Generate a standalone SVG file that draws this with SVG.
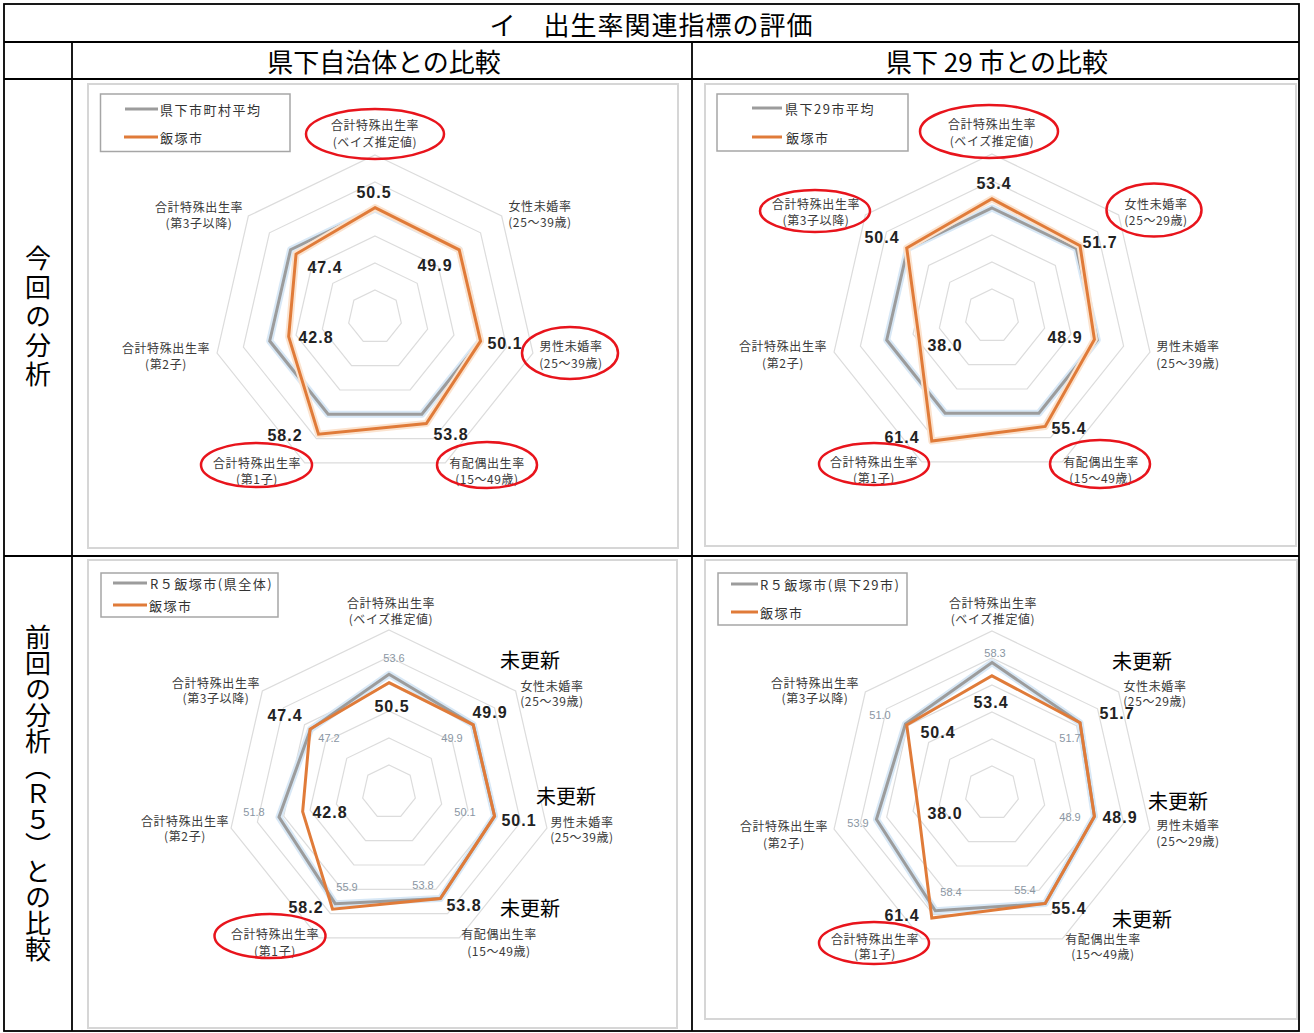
<svg xmlns="http://www.w3.org/2000/svg" xmlns:xlink="http://www.w3.org/1999/xlink" width="1314" height="1033" viewBox="0 0 1314 1033">
<style>
.cell{fill:none;stroke:#000;stroke-width:1.8}
.hd{font-family:"Noto Sans CJK JP",sans-serif;font-size:26px;fill:#000;text-anchor:middle;dominant-baseline:central}
.vt{font-family:"Noto Sans CJK JP",sans-serif;font-size:26px;fill:#000;text-anchor:middle;writing-mode:vertical-rl}
.frame{fill:#fff;stroke:#d6d6d6;stroke-width:2}
.ring{fill:none;stroke:#dcdcdc;stroke-width:1.2}
.gh{fill:none;stroke:#d8e8f6;stroke-width:7;stroke-linejoin:round}
.oh{fill:none;stroke:#fbe3cf;stroke-width:7;stroke-linejoin:round}
.gs{fill:none;stroke:#9c9c9c;stroke-width:3}
.os{fill:none;stroke:#e07b39;stroke-width:3}
.ax{font-family:"Noto Sans CJK JP",sans-serif;font-size:12px;fill:#3a3a3a;text-anchor:middle;dominant-baseline:central;letter-spacing:0.6px}
.vb{font-family:"Liberation Sans",Arial,sans-serif;font-size:16px;font-weight:bold;fill:#222;text-anchor:middle;dominant-baseline:central;letter-spacing:1px}
.vg{font-family:"Liberation Sans",Arial,sans-serif;font-size:11px;fill:#8a96a3;text-anchor:middle;dominant-baseline:central}
.upd{font-family:"Noto Sans CJK JP",sans-serif;font-size:20px;fill:#000;text-anchor:middle;dominant-baseline:central}
.lg{fill:#fff;stroke:#a6a6a6;stroke-width:1.5}
.lgg{stroke:#9c9c9c;stroke-width:3}
.lgo{stroke:#e07b39;stroke-width:3}
.lt{font-family:"Noto Sans CJK JP",sans-serif;font-size:13px;fill:#333;dominant-baseline:central;letter-spacing:1.5px}
.mark{fill:none;stroke:#e8141c;stroke-width:2.5}
</style>
<defs>
<polygon id="hep" vector-effect="non-scaling-stroke" points="0,-100 78.183,-62.349 97.493,22.252 43.388,90.097 -43.388,90.097 -97.493,22.252 -78.183,-62.349"/>
</defs>
<rect width="1314" height="1033" fill="#fff"/>

<g id="table">
<rect class="cell" x="4" y="4" width="1295" height="1027"/>
<line class="cell" x1="4" y1="42" x2="1299" y2="42"/>
<line class="cell" x1="4" y1="79" x2="1299" y2="79"/>
<line class="cell" x1="4" y1="556" x2="1299" y2="556"/>
<line class="cell" x1="72" y1="42" x2="72" y2="1031"/>
<line class="cell" x1="692" y1="42" x2="692" y2="1031"/>
<text class="hd" x="651.5" y="23" style="letter-spacing:1px">イ　出生率関連指標の評価</text>
<text class="hd" x="384" y="60.5">県下自治体との比較</text>
<text class="hd" x="997" y="60.5">県下 29 市との比較</text>
<text class="vt" x="38" y="317.5" style="letter-spacing:3px">今回の分析</text>
<text class="vt" x="38" y="793.5">前回の分析（Ｒ５）との比較</text>
</g>

<g id="chart-tl">
<rect class="frame" x="88" y="84" width="590" height="464"/>
<g transform="translate(375 317)">
<use href="#hep" class="ring" transform="scale(0.27)"/>
<use href="#hep" class="ring" transform="scale(0.54)"/>
<use href="#hep" class="ring" transform="scale(0.81)"/>
<use href="#hep" class="ring" transform="scale(1.08)"/>
<use href="#hep" class="ring" transform="scale(1.35)"/>
<use href="#hep" class="ring" transform="scale(1.62)"/>
<use href="#hep" class="gh" transform="scale(1.08)"/>
<use href="#hep" class="gs" transform="scale(1.08)"/>
</g>
<polygon class="oh" points="375,207.65 459.23,249.83 480.56,341.09 426.31,423.55 318.53,434.25 288.66,336.71 296.05,254.04"/>
<polygon class="os" points="375,207.65 459.23,249.83 480.56,341.09 426.31,423.55 318.53,434.25 288.66,336.71 296.05,254.04"/>
<rect class="lg" x="100.5" y="94" width="189.5" height="57.5"/>
<line class="lgg" x1="125" y1="109" x2="158" y2="109"/>
<text class="lt" x="160" y="109">県下市町村平均</text>
<line class="lgo" x1="124" y1="137" x2="158" y2="137"/>
<text class="lt" x="160" y="137">飯塚市</text>
<text class="ax"><tspan x="375" y="124">合計特殊出生率</tspan><tspan x="375" y="141">(ベイズ推定値)</tspan></text>
<text class="ax"><tspan x="540" y="205">女性未婚率</tspan><tspan x="540" y="221">(25～39歳)</tspan></text>
<text class="ax"><tspan x="571" y="345">男性未婚率</tspan><tspan x="571" y="362">(25～39歳)</tspan></text>
<text class="ax"><tspan x="487" y="462">有配偶出生率</tspan><tspan x="487" y="478">(15～49歳)</tspan></text>
<text class="ax"><tspan x="257" y="462">合計特殊出生率</tspan><tspan x="257" y="478">(第1子)</tspan></text>
<text class="ax"><tspan x="166" y="347">合計特殊出生率</tspan><tspan x="166" y="363">(第2子)</tspan></text>
<text class="ax"><tspan x="199" y="206">合計特殊出生率</tspan><tspan x="199" y="222">(第3子以降)</tspan></text>
<text class="vb" x="374" y="192">50.5</text>
<text class="vb" x="435" y="265">49.9</text>
<text class="vb" x="505" y="343">50.1</text>
<text class="vb" x="451" y="434">53.8</text>
<text class="vb" x="285" y="435">58.2</text>
<text class="vb" x="316" y="337">42.8</text>
<text class="vb" x="325" y="267">47.4</text>
<ellipse class="mark" cx="375" cy="134" rx="69" ry="25"/>
<ellipse class="mark" cx="570" cy="353" rx="48" ry="26"/>
<ellipse class="mark" cx="487" cy="465" rx="50" ry="23"/>
<ellipse class="mark" cx="256.5" cy="465" rx="55.5" ry="22"/>
</g>

<g id="chart-tr">
<rect class="frame" x="705" y="84" width="591" height="462"/>
<g transform="translate(992 316)">
<use href="#hep" class="ring" transform="scale(0.27)"/>
<use href="#hep" class="ring" transform="scale(0.54)"/>
<use href="#hep" class="ring" transform="scale(0.81)"/>
<use href="#hep" class="ring" transform="scale(1.08)"/>
<use href="#hep" class="ring" transform="scale(1.35)"/>
<use href="#hep" class="ring" transform="scale(1.62)"/>
<use href="#hep" class="gh" transform="scale(1.08)"/>
<use href="#hep" class="gs" transform="scale(1.08)"/>
</g>
<polygon class="oh" points="992,198.82 1080.03,245.8 1094.4,339.37 1045.19,426.44 931.79,441.04 918.3,332.82 906.72,247.99"/>
<polygon class="os" points="992,198.82 1080.03,245.8 1094.4,339.37 1045.19,426.44 931.79,441.04 918.3,332.82 906.72,247.99"/>
<rect class="lg" x="717" y="94" width="191" height="57"/>
<line class="lgg" x1="752" y1="108" x2="782" y2="108"/>
<text class="lt" x="785" y="108">県下29市平均</text>
<line class="lgo" x1="752" y1="137" x2="782" y2="137"/>
<text class="lt" x="786" y="137">飯塚市</text>
<text class="ax"><tspan x="992" y="123">合計特殊出生率</tspan><tspan x="992" y="140">(ベイズ推定値)</tspan></text>
<text class="ax"><tspan x="1156" y="203">女性未婚率</tspan><tspan x="1156" y="219">(25～29歳)</tspan></text>
<text class="ax"><tspan x="1188" y="345">男性未婚率</tspan><tspan x="1188" y="362">(25～39歳)</tspan></text>
<text class="ax"><tspan x="1101" y="461">有配偶出生率</tspan><tspan x="1101" y="477">(15～49歳)</tspan></text>
<text class="ax"><tspan x="874" y="461">合計特殊出生率</tspan><tspan x="874" y="477">(第1子)</tspan></text>
<text class="ax"><tspan x="783" y="345">合計特殊出生率</tspan><tspan x="783" y="362">(第2子)</tspan></text>
<text class="ax"><tspan x="816" y="203">合計特殊出生率</tspan><tspan x="816" y="219">(第3子以降)</tspan></text>
<text class="vb" x="994" y="183">53.4</text>
<text class="vb" x="1100" y="242">51.7</text>
<text class="vb" x="1065" y="337">48.9</text>
<text class="vb" x="1069" y="428">55.4</text>
<text class="vb" x="902" y="437">61.4</text>
<text class="vb" x="945" y="345">38.0</text>
<text class="vb" x="882" y="237">50.4</text>
<ellipse class="mark" cx="989" cy="131.5" rx="69" ry="26.5"/>
<ellipse class="mark" cx="1154" cy="210" rx="47.5" ry="26.5"/>
<ellipse class="mark" cx="815" cy="211" rx="55" ry="21"/>
<ellipse class="mark" cx="874" cy="464" rx="55" ry="21"/>
<ellipse class="mark" cx="1100" cy="464" rx="50" ry="24"/>
</g>

<g id="chart-bl">
<rect class="frame" x="88" y="560" width="589" height="468"/>
<g transform="translate(389 792)">
<use href="#hep" class="ring" transform="scale(0.27)"/>
<use href="#hep" class="ring" transform="scale(0.54)"/>
<use href="#hep" class="ring" transform="scale(0.81)"/>
<use href="#hep" class="ring" transform="scale(1.08)"/>
<use href="#hep" class="ring" transform="scale(1.35)"/>
<use href="#hep" class="ring" transform="scale(1.62)"/>
</g>
<polygon class="gh" points="389,674.28 473.23,724.83 494.56,816.09 440.31,898.55 335.23,903.66 278.97,817.11 310.47,729.38"/>
<polygon class="gs" points="389,674.28 473.23,724.83 494.56,816.09 440.31,898.55 335.23,903.66 278.97,817.11 310.47,729.38"/>
<polygon class="os" points="389,682.65 473.23,724.83 494.56,816.09 440.31,898.55 332.53,909.25 302.66,811.71 310.05,729.04"/>
<rect class="lg" x="101" y="573" width="177" height="44"/>
<line class="lgg" x1="113" y1="583" x2="147" y2="583"/>
<text class="lt" x="150" y="583">R５飯塚市(県全体)</text>
<line class="lgo" x1="113" y1="605" x2="147" y2="605"/>
<text class="lt" x="149" y="605">飯塚市</text>
<text class="ax"><tspan x="391" y="602">合計特殊出生率</tspan><tspan x="391" y="618">(ベイズ推定値)</tspan></text>
<text class="ax"><tspan x="552" y="685">女性未婚率</tspan><tspan x="552" y="700">(25～39歳)</tspan></text>
<text class="ax"><tspan x="582" y="821">男性未婚率</tspan><tspan x="582" y="836">(25～39歳)</tspan></text>
<text class="ax"><tspan x="499" y="933">有配偶出生率</tspan><tspan x="499" y="950">(15～49歳)</tspan></text>
<text class="ax"><tspan x="275" y="933">合計特殊出生率</tspan><tspan x="275" y="950">(第1子)</tspan></text>
<text class="ax"><tspan x="185" y="820">合計特殊出生率</tspan><tspan x="185" y="835">(第2子)</tspan></text>
<text class="ax"><tspan x="216" y="682">合計特殊出生率</tspan><tspan x="216" y="697">(第3子以降)</tspan></text>
<text class="vg" x="394" y="658">53.6</text>
<text class="vg" x="452" y="738">49.9</text>
<text class="vg" x="465" y="812">50.1</text>
<text class="vg" x="423" y="885">53.8</text>
<text class="vg" x="347" y="887">55.9</text>
<text class="vg" x="254" y="812">51.8</text>
<text class="vg" x="329" y="738">47.2</text>
<text class="vb" x="392" y="706">50.5</text>
<text class="vb" x="490" y="712">49.9</text>
<text class="vb" x="519" y="820">50.1</text>
<text class="vb" x="464" y="905">53.8</text>
<text class="vb" x="306" y="907">58.2</text>
<text class="vb" x="330" y="812">42.8</text>
<text class="vb" x="285" y="715">47.4</text>
<text class="upd" x="530" y="659">未更新</text>
<text class="upd" x="566" y="795">未更新</text>
<text class="upd" x="530" y="907">未更新</text>
<ellipse class="mark" cx="270" cy="936" rx="55.5" ry="22"/>
</g>

<g id="chart-br">
<rect class="frame" x="705" y="560" width="592" height="459"/>
<g transform="translate(992 793)">
<use href="#hep" class="ring" transform="scale(0.27)"/>
<use href="#hep" class="ring" transform="scale(0.54)"/>
<use href="#hep" class="ring" transform="scale(0.81)"/>
<use href="#hep" class="ring" transform="scale(1.08)"/>
<use href="#hep" class="ring" transform="scale(1.35)"/>
<use href="#hep" class="ring" transform="scale(1.62)"/>
</g>
<polygon class="gh" points="992,662.59 1080.03,722.8 1094.4,816.37 1045.19,903.44 935.3,910.74 876.44,819.38 905.45,723.98"/>
<polygon class="gs" points="992,662.59 1080.03,722.8 1094.4,816.37 1045.19,903.44 935.3,910.74 876.44,819.38 905.45,723.98"/>
<polygon class="os" points="992,675.82 1080.03,722.8 1094.4,816.37 1045.19,903.44 931.79,918.04 918.3,809.82 906.72,724.99"/>
<rect class="lg" x="718" y="573" width="189" height="52"/>
<line class="lgg" x1="731" y1="584" x2="758" y2="584"/>
<text class="lt" x="760" y="584">R５飯塚市(県下29市)</text>
<line class="lgo" x1="731" y1="612" x2="758" y2="612"/>
<text class="lt" x="760" y="612">飯塚市</text>
<text class="ax"><tspan x="993" y="602">合計特殊出生率</tspan><tspan x="993" y="618">(ベイズ推定値)</tspan></text>
<text class="ax"><tspan x="1155" y="685">女性未婚率</tspan><tspan x="1155" y="700">(25～29歳)</tspan></text>
<text class="ax"><tspan x="1188" y="824">男性未婚率</tspan><tspan x="1188" y="840">(25～29歳)</tspan></text>
<text class="ax"><tspan x="1103" y="938">有配偶出生率</tspan><tspan x="1103" y="953">(15～49歳)</tspan></text>
<text class="ax"><tspan x="875" y="938">合計特殊出生率</tspan><tspan x="875" y="953">(第1子)</tspan></text>
<text class="ax"><tspan x="784" y="825">合計特殊出生率</tspan><tspan x="784" y="842">(第2子)</tspan></text>
<text class="ax"><tspan x="815" y="682">合計特殊出生率</tspan><tspan x="815" y="697">(第3子以降)</tspan></text>
<text class="vg" x="995" y="653">58.3</text>
<text class="vg" x="1070" y="738">51.7</text>
<text class="vg" x="1070" y="817">48.9</text>
<text class="vg" x="1025" y="890">55.4</text>
<text class="vg" x="951" y="892">58.4</text>
<text class="vg" x="858" y="823">53.9</text>
<text class="vg" x="880" y="715">51.0</text>
<text class="vb" x="991" y="702">53.4</text>
<text class="vb" x="1117" y="713">51.7</text>
<text class="vb" x="1120" y="817">48.9</text>
<text class="vb" x="1069" y="908">55.4</text>
<text class="vb" x="902" y="915">61.4</text>
<text class="vb" x="945" y="813">38.0</text>
<text class="vb" x="938" y="732">50.4</text>
<text class="upd" x="1142" y="660">未更新</text>
<text class="upd" x="1178" y="800">未更新</text>
<text class="upd" x="1142" y="918">未更新</text>
<ellipse class="mark" cx="874" cy="943" rx="55" ry="21"/>
</g>
</svg>
